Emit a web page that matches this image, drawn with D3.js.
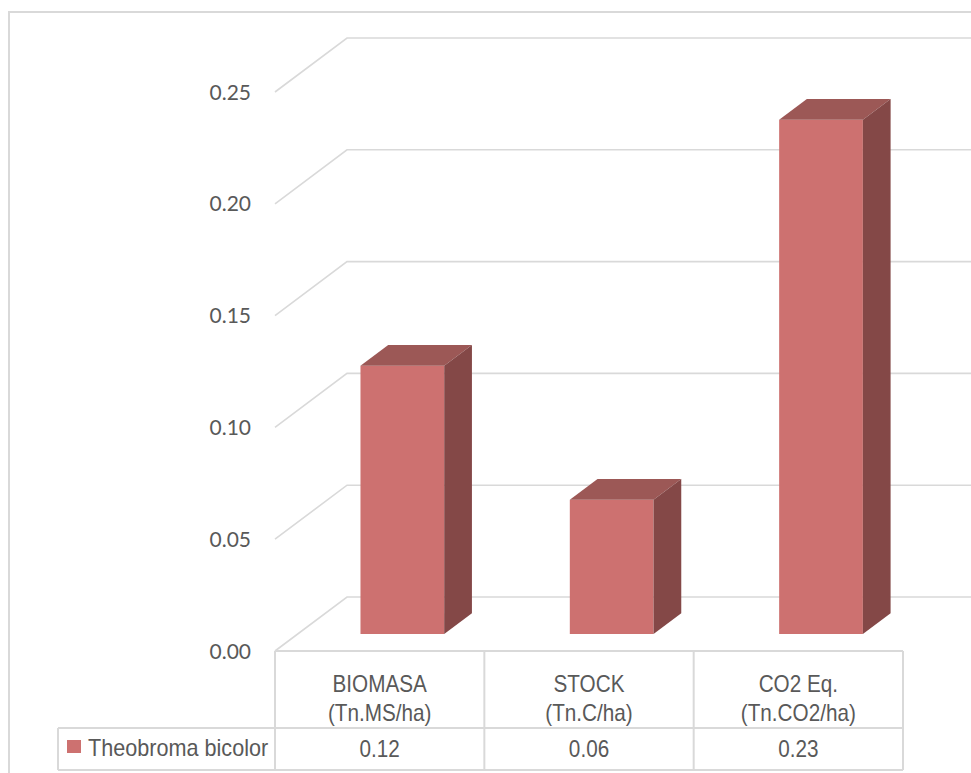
<!DOCTYPE html>
<html>
<head>
<meta charset="utf-8">
<script src="https://cdn.jsdelivr.net/npm/d3@7"></script>
<style>
  html, body { margin: 0; padding: 0; background: #ffffff; }
  svg { display: block; }
</style>
</head>
<body>
<svg id="chart" width="971" height="773"></svg>
<script>
// Data
const categories = ["BIOMASA", "STOCK", "CO2 Eq."];
const units = ["(Tn.MS/ha)", "(Tn.C/ha)", "(Tn.CO2/ha)"];
const seriesName = "Theobroma bicolor";
const values = [0.12, 0.06, 0.23];
const yTicks = [0, 0.05, 0.10, 0.15, 0.20, 0.25];

// Layout
const W = 971, H = 773;
const floorLeft = 275, floorRight = 903;
const yFront0 = 651, yFrontTop = 92;
const depthX = 72, depthY = -54;          // full wall depth projection
const barDepth0 = 0.315, barDepth1 = 0.70; // bar depth span as fraction of wall depth
const gridColor = "#d9d9d9";
const textColor = "#595959";
const faceFront = "#cd7170", faceTop = "#9c5856", faceSide = "#844847";

const svg = d3.select("#chart");

const x = d3.scaleBand().domain(categories).range([floorLeft, floorRight]).paddingInner(0).paddingOuter(0);
const y = d3.scaleLinear().domain([0, 0.25]).range([yFront0, yFrontTop]);

// project a front-plane point to a given depth fraction
const proj = (px, py, f) => [px + depthX * f, py + depthY * f];

// outer chart border
svg.append("rect")
  .attr("x", 9).attr("y", 12).attr("width", W).attr("height", H)
  .attr("fill", "none").attr("stroke", gridColor).attr("stroke-width", 2);

// gridlines: side wall diagonal + back wall horizontal
const grid = svg.append("g").attr("fill", "none").attr("stroke", gridColor).attr("stroke-width", 1.6);
yTicks.forEach(t => {
  const yf = y(t);
  const [bx, by] = proj(floorLeft, yf, 1);
  grid.append("path")
    .attr("d", `M${floorLeft},${yf}L${bx},${by}L${W + 5},${by}`);
});

// y axis labels
svg.append("g").selectAll("text").data(yTicks).join("text")
  .attr("x", 251).attr("y", d => y(d)).attr("dy", "0.36em")
  .attr("text-anchor", "end")
  .attr("font-family", "Lato, 'Open Sans', sans-serif")
  .attr("font-size", 21)
  .attr("fill", textColor)
  .text(d => d.toFixed(2));

// 3D bars
const barW = x.bandwidth() * 0.4;
const bars = svg.append("g");
categories.forEach((c, i) => {
  const v = values[i];
  const cx = x(c) + x.bandwidth() / 2;
  const x0 = cx - barW / 2, x1 = cx + barW / 2;
  const yb = y(0), yt = y(v);
  const f0 = barDepth0, f1 = barDepth1;
  const p = (px, py, f) => proj(px, py, f).join(",");
  // front
  bars.append("polygon").attr("fill", faceFront)
    .attr("points", [p(x0, yt, f0), p(x1, yt, f0), p(x1, yb, f0), p(x0, yb, f0)].join(" "));
  // top
  bars.append("polygon").attr("fill", faceTop)
    .attr("points", [p(x0, yt, f0), p(x1, yt, f0), p(x1, yt, f1), p(x0, yt, f1)].join(" "));
  // right side
  bars.append("polygon").attr("fill", faceSide)
    .attr("points", [p(x1, yt, f0), p(x1, yt, f1), p(x1, yb, f1), p(x1, yb, f0)].join(" "));
});

// data table under the floor
const rowTop = 651, rowMid = 728, rowBot = 770, legendLeft = 58;
const table = svg.append("g").attr("fill", "none").attr("stroke", gridColor).attr("stroke-width", 2);
table.append("line").attr("x1", floorLeft).attr("x2", floorRight).attr("y1", rowTop).attr("y2", rowTop);
table.append("line").attr("x1", legendLeft).attr("x2", floorRight).attr("y1", rowMid).attr("y2", rowMid);
table.append("line").attr("x1", legendLeft).attr("x2", floorRight).attr("y1", rowBot).attr("y2", rowBot);
table.append("line").attr("x1", legendLeft).attr("x2", legendLeft).attr("y1", rowMid).attr("y2", rowBot);
[...categories.map(c => x(c)), floorRight].forEach(xx => {
  table.append("line").attr("x1", xx).attr("x2", xx).attr("y1", rowTop).attr("y2", rowBot);
});

const narrowText = (g, tx, ty, str, anchor, sx = 0.9) =>
  g.append("text")
    .attr("transform", `translate(${tx},${ty}) scale(${sx},1)`)
    .attr("text-anchor", anchor)
    .attr("font-family", "'Liberation Sans', Arial, sans-serif")
    .attr("font-size", 23)
    .attr("fill", textColor)
    .text(str);

const labels = svg.append("g");
categories.forEach((c, i) => {
  const cx = x(c) + x.bandwidth() / 2;
  narrowText(labels, cx, 692, c, "middle");
  narrowText(labels, cx, 721, units[i], "middle");
  narrowText(labels, cx, 757, values[i].toFixed(2), "middle");
});

// legend key + series name
svg.append("rect").attr("x", 67).attr("y", 740).attr("width", 14).attr("height", 13).attr("fill", faceFront);
narrowText(labels, 88, 756, seriesName, "start", 0.94);
</script>
</body>
</html>
